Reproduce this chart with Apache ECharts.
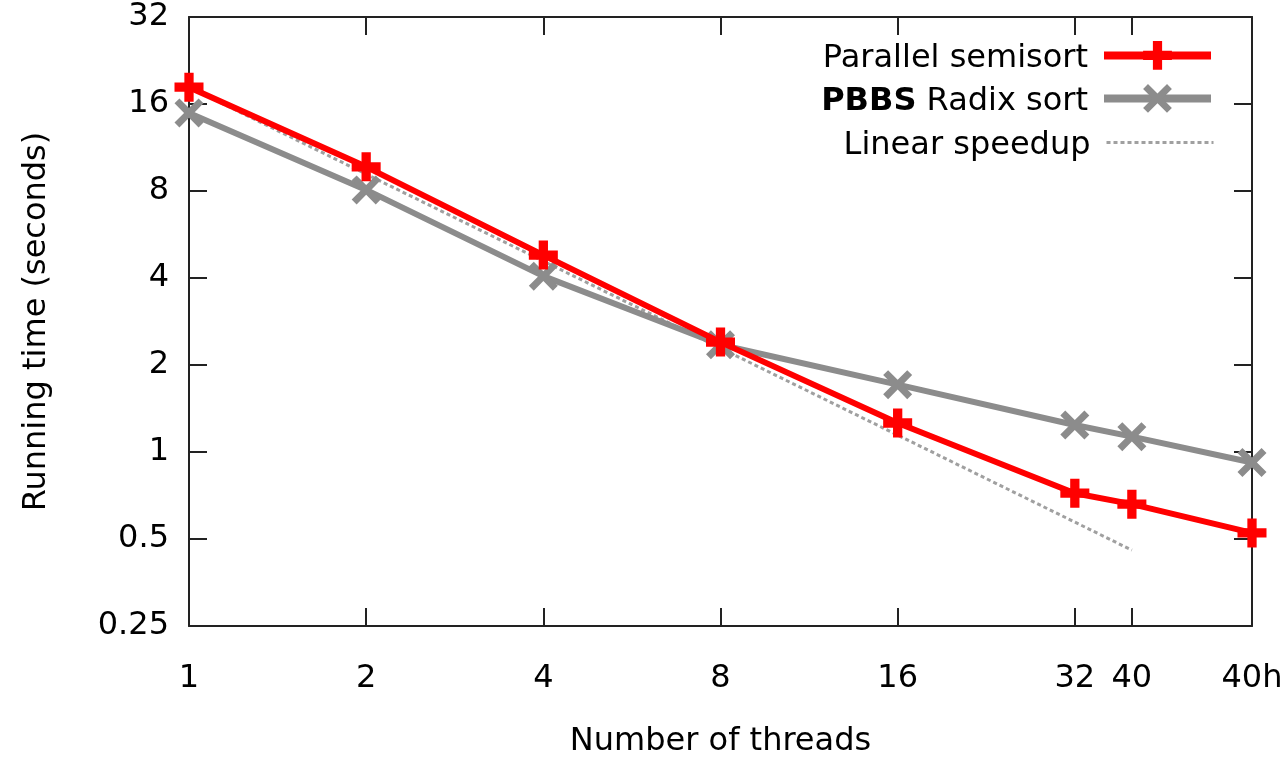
<!DOCTYPE html>
<html>
<head>
<meta charset="utf-8">
<script src="https://cdn.jsdelivr.net/npm/echarts@6/dist/echarts.min.js"></script>
<style>
html,body{margin:0;padding:0;background:#fff;}
#chart{width:1284px;height:760px;}
</style>
</head>
<body>
<div id="chart"></div>
<script>
// x positions on a log2 thread axis ("40h" = 40 hyperthreaded, drawn one step after 32)
const threadPos = [1, 2, 4, 8, 16, 32, 40, 64];
const threadLabels = ['1', '2', '4', '8', '16', '32', '40', '40h'];
const semisort = [18.3, 9.7, 4.8, 2.40, 1.26, 0.72, 0.66, 0.525];
const radix = [14.9, 8.07, 4.06, 2.35, 1.71, 1.24, 1.13, 0.92];
const linearPos = [1, 2, 4, 8, 16, 32, 40];
const linear = [18.3, 9.15, 4.575, 2.2875, 1.144, 0.572, 0.4575];
const yTicks = [0.25, 0.5, 1, 2, 4, 8, 16, 32];

const FONT = 'DejaVu Sans';
const FS = 32;
const plusPath = 'path://M3.4,0 L6.6,0 L6.6,3.4 L10,3.4 L10,6.6 L6.6,6.6 L6.6,10 L3.4,10 L3.4,6.6 L0,6.6 L0,3.4 L3.4,3.4 Z';
const crossPath = 'path://M0,1.7 L1.7,0 L5,3.3 L8.3,0 L10,1.7 L6.7,5 L10,8.3 L8.3,10 L5,6.7 L1.7,10 L0,8.3 L3.3,5 Z';

function labelFor(v) {
  let best = 0, bd = Infinity;
  for (let i = 0; i < threadPos.length; i++) {
    const d = Math.abs(Math.log2(v) - Math.log2(threadPos[i]));
    if (d < bd) { bd = d; best = i; }
  }
  return threadLabels[best];
}
function pairs(xs, ys) { return xs.map((x, i) => [x, ys[i]]); }

const axisLineStyle = { color: '#222', width: 2 };
const tickStyle = { color: '#222', width: 2 };

const chart = echarts.init(document.getElementById('chart'), null, { renderer: 'canvas' });
const legendBase = {
  orient: 'horizontal', align: 'right', right: 69, padding: 0,
  itemWidth: 107, itemHeight: 36,
  textStyle: { fontFamily: FONT, fontSize: FS, color: '#000', padding: [6, 11, 0, 0],
    rich: { b: { fontFamily: FONT, fontSize: FS, fontWeight: 'bold', color: '#000' } } }
};
chart.setOption({
  animation: false,
  backgroundColor: '#fff',
  grid: { left: 189, right: 32, top: 17, bottom: 134, outerBoundsMode: 'none', containLabel: false },
  legend: [
    Object.assign({}, legendBase, { top: 41, data: ['Parallel semisort'], lineStyle: { width: 8 } }),
    Object.assign({}, legendBase, { top: 84, data: ['PBBS Radix sort'], lineStyle: { width: 8 },
      formatter: () => '{b|PBBS} Radix sort' }),
    Object.assign({}, legendBase, { top: 128, data: ['Linear speedup'],
      lineStyle: { width: 3 }, itemStyle: { color: 'rgba(0,0,0,0)', opacity: 0 } })
  ],
  xAxis: [{
    type: 'log', logBase: 2, min: 1, max: 64,
    name: 'Number of threads', nameLocation: 'middle', nameGap: 100,
    nameTextStyle: { fontFamily: FONT, fontSize: FS, color: '#000' },
    axisLine: { lineStyle: axisLineStyle },
    axisTick: { inside: true, length: 18, lineStyle: tickStyle, customValues: threadPos },
    axisLabel: { fontFamily: FONT, fontSize: FS, color: '#000', margin: 37,
      customValues: threadPos, formatter: v => labelFor(v) },
    splitLine: { show: false }
  }, {
    type: 'log', logBase: 2, min: 1, max: 64, position: 'top',
    axisLine: { lineStyle: axisLineStyle },
    axisTick: { inside: true, length: 18, lineStyle: tickStyle, customValues: threadPos },
    axisLabel: { show: false },
    splitLine: { show: false }
  }],
  yAxis: [{
    type: 'log', logBase: 2, min: 0.25, max: 32,
    name: 'Running time (seconds)', nameLocation: 'middle', nameGap: 136,
    nameTextStyle: { fontFamily: FONT, fontSize: FS, color: '#000' },
    axisLine: { show: true, lineStyle: axisLineStyle },
    axisTick: { show: true, inside: true, length: 18, lineStyle: tickStyle, customValues: yTicks },
    axisLabel: { fontFamily: FONT, fontSize: FS, color: '#000', margin: 20, customValues: yTicks,
      formatter: v => String(+v.toPrecision(6)) },
    splitLine: { show: false }
  }, {
    type: 'log', logBase: 2, min: 0.25, max: 32, position: 'right',
    axisLine: { show: true, lineStyle: axisLineStyle },
    axisTick: { show: true, inside: true, length: 18, lineStyle: tickStyle, customValues: yTicks },
    axisLabel: { show: false },
    splitLine: { show: false }
  }],
  series: [{
    name: 'Parallel semisort', type: 'line', z: 4,
    data: pairs(threadPos, semisort),
    symbol: plusPath, symbolSize: 29,
    lineStyle: { color: '#ff0000', width: 6 },
    itemStyle: { color: '#ff0000' }
  }, {
    name: 'PBBS Radix sort', type: 'line', z: 3,
    data: pairs(threadPos, radix),
    symbol: crossPath, symbolSize: 29,
    lineStyle: { color: '#8c8c8c', width: 6 },
    itemStyle: { color: '#8c8c8c' }
  }, {
    name: 'Linear speedup', type: 'line', z: 2,
    data: pairs(linearPos, linear),
    symbol: 'none', showSymbol: false,
    lineStyle: { color: '#a0a0a0', width: 3, type: [4, 3] },
    itemStyle: { color: '#a0a0a0' }
  }]
});
</script>
</body>
</html>
